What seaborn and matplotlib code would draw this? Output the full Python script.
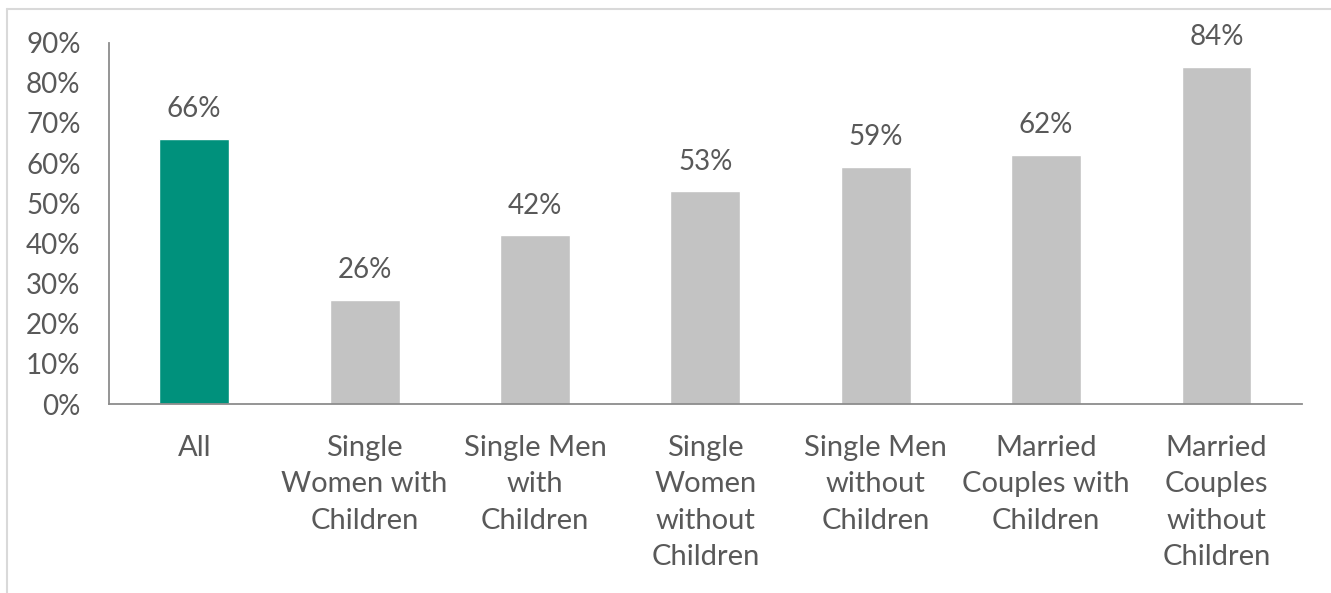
import matplotlib
matplotlib.use("Agg")
import matplotlib.pyplot as plt
from matplotlib.lines import Line2D
from matplotlib.ticker import PercentFormatter, FixedLocator, NullFormatter
import seaborn as sns
import pandas as pd

# data
categories = ["All", "Single\nWomen with\nChildren", "Single Men\nwith\nChildren",
              "Single\nWomen\nwithout\nChildren", "Single Men\nwithout\nChildren",
              "Married\nCouples with\nChildren", "Married\nCouples\nwithout\nChildren"]
values = [0.66, 0.26, 0.42, 0.53, 0.59, 0.62, 0.84]
bar_colors = ["#00917C", "#C3C3C3", "#C3C3C3", "#C3C3C3", "#C3C3C3", "#C3C3C3", "#C3C3C3"]

df = pd.DataFrame({"cat": categories, "val": values})

sns.set_style("white")
plt.rcParams["font.family"] = ["Lato", "DejaVu Sans"]
text_col = "#595959"
axis_col = "#8C8C8C"

fig = plt.figure(figsize=(13.31, 5.93), dpi=100)
ax = fig.add_axes([0.0819, 0.3187, 0.978 - 0.0819, 0.928 - 0.3187])

sns.barplot(data=df, x="cat", y="val", hue="cat", palette=bar_colors,
            legend=False, width=0.41, ax=ax, saturation=1)

for i, v in enumerate(values):
    ax.annotate(f"{v:.0%}", (i, v), xytext=(0, 12), textcoords="offset points",
                ha="center", va="bottom", fontsize=20, color=text_col)

ax.set_xlim(-0.5, len(categories) - 0.5)
ax.set_ylim(0, 0.9)
ax.set_yticks([i / 10 for i in range(10)])
ax.yaxis.set_major_formatter(PercentFormatter(1.0, decimals=0))
ax.set_xlabel("")
ax.set_ylabel("")

ax.xaxis.set_minor_locator(FixedLocator([i - 0.5 for i in range(len(categories) + 1)]))
ax.xaxis.set_minor_formatter(NullFormatter())
ax.tick_params(axis="x", which="major", length=0, pad=22, labelsize=21, labelcolor=text_col)
ax.tick_params(axis="x", which="minor", length=7, width=1.3, color=axis_col, direction="out")
ax.tick_params(axis="y", length=6.5, width=1.3, color=axis_col, direction="out",
               pad=14, labelsize=20, labelcolor=text_col)
for lab in ax.get_xticklabels():
    lab.set_linespacing(1.5)

for s in ["top", "right"]:
    ax.spines[s].set_visible(False)
for s in ["left", "bottom"]:
    ax.spines[s].set_color(axis_col)
    ax.spines[s].set_linewidth(1.3)

# chart area border (top and left edges visible)
W, H = 1331, 593
fig.add_artist(Line2D([7 / W, 1.0], [1 - 9 / H, 1 - 9 / H], color="#D9D9D9", lw=1.5))
fig.add_artist(Line2D([7 / W, 7 / W], [0.0, 1 - 9 / H], color="#D9D9D9", lw=1.5))

fig.savefig("out.png", dpi=100)
